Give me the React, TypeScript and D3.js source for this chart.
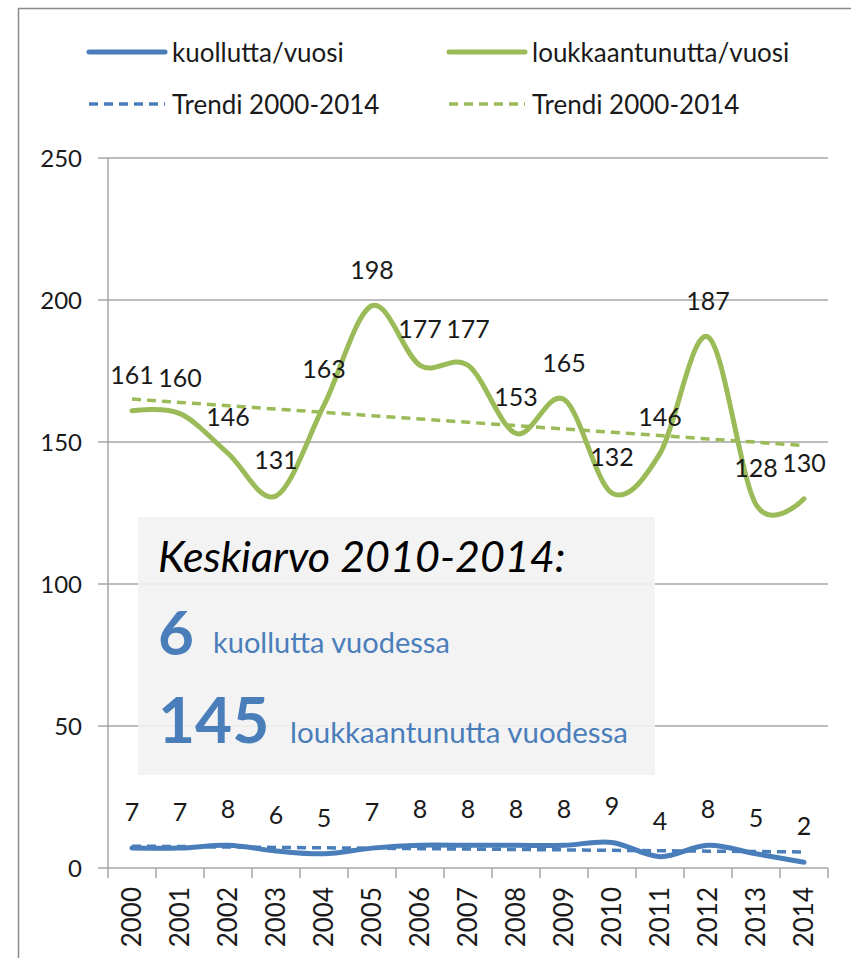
import React from "react";
import * as d3 from "d3";

const years = ["2000", "2001", "2002", "2003", "2004", "2005", "2006", "2007", "2008", "2009", "2010", "2011", "2012", "2013", "2014"];
const killed = [7, 7, 8, 6, 5, 7, 8, 8, 8, 8, 9, 4, 8, 5, 2];
const injured = [161, 160, 146, 131, 163, 198, 177, 177, 153, 165, 132, 146, 187, 128, 130];
const yTicks = [0, 50, 100, 150, 200, 250];

const BLUE = "#4a7ebb";
const GREEN = "#9bbb59";
const FONT = "Lato, 'Open Sans', sans-serif";

// least squares trend, evaluated at each year
function trend(vals: number[]) {
  const xs = vals.map((_, i) => i);
  const mx = d3.mean(xs)!;
  const my = d3.mean(vals)!;
  const sxy = d3.sum(xs, (x, i) => (x - mx) * (vals[i] - my));
  const sxx = d3.sum(xs, (x) => (x - mx) ** 2);
  const b = sxy / sxx;
  return xs.map((x) => my + b * (x - mx));
}

export default function App() {
  const ref = React.useRef<SVGSVGElement>(null);

  React.useEffect(() => {
    const width = 851;
    const height = 958;
    const left = 108, right = 828, top = 158, bottom = 868;

    const svg = d3.select(ref.current!);
    svg.selectAll("*").remove();

    const x = d3.scaleBand().domain(years).range([left, right]);
    const y = d3.scaleLinear().domain([0, 250]).range([bottom, top]);
    const cx = (i: number) => x(years[i])! + x.bandwidth() / 2;

    svg.append("rect").attr("width", width).attr("height", height).attr("fill", "#fff");
    // outer chart border
    svg.append("rect")
      .attr("x", 18.5).attr("y", 8.5)
      .attr("width", 900).attr("height", 1000)
      .attr("fill", "none").attr("stroke", "#8c8c8c").attr("stroke-width", 1.5);

    // gridlines + y ticks
    svg.append("g")
      .selectAll("line")
      .data(yTicks.filter((d) => d > 0))
      .join("line")
      .attr("x1", left - 10).attr("x2", right)
      .attr("y1", (d) => y(d)).attr("y2", (d) => y(d))
      .attr("stroke", "#a6a6a6").attr("stroke-width", 1.5);

    svg.append("g")
      .selectAll("text")
      .data(yTicks)
      .join("text")
      .attr("x", left - 26).attr("y", (d) => y(d) + 9)
      .attr("text-anchor", "end")
      .attr("font-family", FONT).attr("font-size", 24).attr("fill", "#1a1a1a")
      .text((d) => d);

    // axes
    svg.append("line").attr("x1", left).attr("x2", left).attr("y1", top).attr("y2", bottom)
      .attr("stroke", "#a6a6a6").attr("stroke-width", 1.5);
    svg.append("line").attr("x1", left - 10).attr("x2", right).attr("y1", bottom).attr("y2", bottom)
      .attr("stroke", "#a6a6a6").attr("stroke-width", 1.5);
    svg.append("g")
      .selectAll("line")
      .data([...years.map((yr) => x(yr)!), right])
      .join("line")
      .attr("x1", (d) => d).attr("x2", (d) => d)
      .attr("y1", bottom).attr("y2", bottom + 10)
      .attr("stroke", "#a6a6a6").attr("stroke-width", 1.5);

    svg.append("g")
      .selectAll("text")
      .data(years)
      .join("text")
      .attr("transform", (d, i) => `translate(${cx(i) + 9},${bottom + 19}) rotate(-90)`)
      .attr("text-anchor", "end")
      .attr("font-family", FONT).attr("font-size", 26).attr("fill", "#1a1a1a")
      .text((d) => d);

    // summary box
    const box = svg.append("g");
    box.append("rect")
      .attr("x", 138).attr("y", 517).attr("width", 517).attr("height", 258)
      .attr("fill", "#f2f2f2").attr("fill-opacity", 0.9);
    box.append("text")
      .attr("x", 158).attr("y", 572)
      .attr("font-family", FONT).attr("font-style", "italic").attr("font-size", 43).attr("fill", "#000")
      .text("Keskiarvo 2010-2014:");
    box.append("text")
      .attr("x", 158).attr("y", 655)
      .attr("font-family", FONT).attr("font-weight", "bold").attr("font-size", 62).attr("fill", BLUE)
      .text("6");
    box.append("text")
      .attr("x", 213).attr("y", 653)
      .attr("font-family", FONT).attr("font-size", 29).attr("fill", BLUE)
      .text("kuollutta vuodessa");
    box.append("text")
      .attr("x", 158).attr("y", 743)
      .attr("font-family", FONT).attr("font-weight", "bold").attr("font-size", 64).attr("fill", BLUE)
      .text("145");
    box.append("text")
      .attr("x", 290).attr("y", 743)
      .attr("font-family", FONT).attr("font-size", 29.5).attr("fill", BLUE)
      .text("loukkaantunutta vuodessa");

    const line = d3.line<number>()
      .x((d, i) => cx(i))
      .y((d) => y(d))
      .curve(d3.curveCatmullRom.alpha(0));
    const straight = d3.line<number>().x((d, i) => cx(i)).y((d) => y(d));

    const series = [
      { vals: killed, color: BLUE },
      { vals: injured, color: GREEN },
    ];
    series.forEach((s) => {
      svg.append("path")
        .attr("d", straight(trend(s.vals)))
        .attr("fill", "none").attr("stroke", s.color)
        .attr("stroke-width", 3.5).attr("stroke-dasharray", "9,6");
      svg.append("path")
        .attr("d", line(s.vals))
        .attr("fill", "none").attr("stroke", s.color)
        .attr("stroke-width", 5).attr("stroke-linecap", "round");
      svg.append("g")
        .selectAll("text")
        .data(s.vals)
        .join("text")
        .attr("x", (d, i) => cx(i))
        .attr("y", (d) => y(d) - 27)
        .attr("text-anchor", "middle")
        .attr("font-family", FONT).attr("font-size", 25).attr("fill", "#1a1a1a")
        .text((d) => d);
    });

    // legend
    const legend = [
      { label: "kuollutta/vuosi", color: BLUE, dash: null, lx: 89, ly: 52 },
      { label: "loukkaantunutta/vuosi", color: GREEN, dash: null, lx: 449, ly: 52 },
      { label: "Trendi 2000-2014", color: BLUE, dash: "9,6", lx: 89, ly: 104 },
      { label: "Trendi 2000-2014", color: GREEN, dash: "9,6", lx: 449, ly: 104 },
    ];
    const lg = svg.append("g").selectAll("g").data(legend).join("g");
    lg.append("line")
      .attr("x1", (d) => d.lx).attr("x2", (d) => d.lx + 76)
      .attr("y1", (d) => d.ly).attr("y2", (d) => d.ly)
      .attr("stroke", (d) => d.color)
      .attr("stroke-width", (d) => (d.dash ? 3.5 : 5))
      .attr("stroke-dasharray", (d) => d.dash)
      .attr("stroke-linecap", (d) => (d.dash ? "butt" : "round"));
    lg.append("text")
      .attr("x", (d) => d.lx + 83).attr("y", (d) => d.ly + 10)
      .attr("font-family", FONT).attr("font-size", 26).attr("fill", "#1a1a1a")
      .text((d) => d.label);
  }, []);

  return (
    <svg
      ref={ref}
      width={851}
      height={958}
      style={{ position: "absolute", left: 0, top: 0, display: "block" }}
    />
  );
}
